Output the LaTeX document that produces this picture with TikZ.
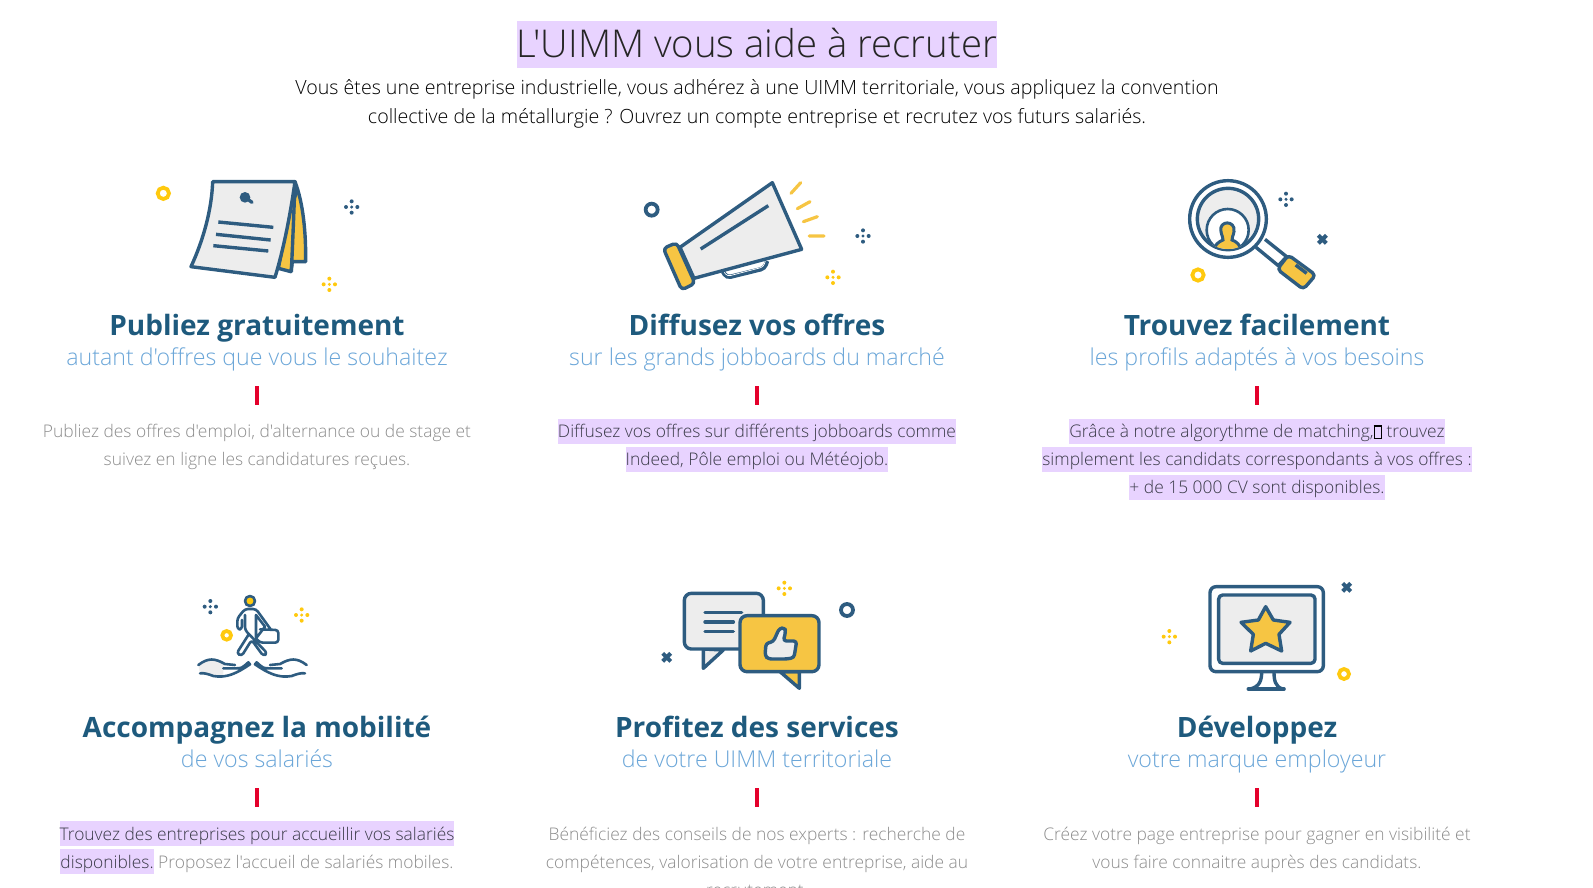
\documentclass[tikz,border=0pt]{standalone}
\usepackage{fontspec}
\usepackage{xcolor}
\setmainfont{Open Sans}
\newfontfamily\lightfont{Open Sans Light}
\usetikzlibrary{positioning}
\definecolor{iconblue}{HTML}{2E5C80}
\definecolor{iconyellow}{HTML}{F6C543}
\definecolor{ringyellow}{HTML}{FFC90E}
\definecolor{papergrey}{HTML}{EDEDED}
\definecolor{headblue}{HTML}{1E5A7D}
\definecolor{subblue}{HTML}{6BA6D8}
\definecolor{barred}{HTML}{E4002B}
\definecolor{hlviolet}{HTML}{E8D3FF}
\definecolor{seltext}{HTML}{3A3A48}
\definecolor{bodygrey}{HTML}{8C8C8C}
\setlength{\fboxsep}{0pt}
\newcommand{\hlbit}[1]{\colorbox{hlviolet}{\rule[-6pt]{0pt}{25pt}\textcolor{seltext}{#1}}}
\newcommand{\tofu}{{\setlength{\fboxrule}{1.2pt}\textcolor{black}{\fbox{\rule{0pt}{11pt}\hspace{6pt}}}}}
\newcommand{\sparkle}[3]{\foreach \dx/\dy in {-17/0,17/0,0/-17,0/17}{\fill[#3] (#1+\dx,#2+\dy) circle (6);}\fill[#3] (#1,#2) circle (5);}
\newcommand{\xmark}[2]{\draw[iconblue,line width=4pt] (#1-12,#2-12) -- (#1+12,#2+12) (#1-12,#2+12) -- (#1+12,#2-12);}
\newcommand{\openhand}{\draw[thinline] (55,285) .. controls (85,262) and (105,265) .. (135,282) -- (165,285) (130,295) -- (165,295) .. controls (185,295) .. (205,277) -- (210,283) .. controls (170,310) and (140,325) .. (100,318) .. controls (85,312) and (70,308) .. (60,310);}
\begin{document}
\begin{tikzpicture}[x=1pt,y=-1pt,
    titleline/.style={anchor=base,inner sep=0pt,font=\lightfont\fontsize{38.3}{46}\selectfont,text=black!85},
    introline/.style={anchor=base,inner sep=0pt,font=\lightfont\fontsize{19.6}{24}\selectfont,text=black},
    headline/.style={anchor=base,inner sep=0pt,font=\bfseries\fontsize{28}{34}\selectfont,text=headblue},
    subline/.style={anchor=base,inner sep=0pt,font=\lightfont\fontsize{23.2}{28}\selectfont,text=subblue},
    bodyline/.style={anchor=base,inner sep=0pt,font=\lightfont\fontsize{17.4}{22}\selectfont,text=bodygrey},
    redbar/.style={fill=barred,inner sep=0pt,minimum width=3.4pt,minimum height=19pt},
    iconline/.style={draw=iconblue,line width=3.4pt,line join=round},
    thinline/.style={draw=iconblue,line width=2.6pt,line join=round,line cap=round},
    ring/.style={line width=3.8pt},
    ray/.style={draw=iconyellow,line width=3.2pt,line cap=round}]
\useasboundingbox (0,0) rectangle (1593,887);
\clip (0,0) rectangle (1593,887);

% title
\node[titleline] (title) at (757,57.5) {\colorbox{hlviolet}{\rule[-10pt]{0pt}{47pt}L'UIMM vous aide à recruter}};
\node[introline] (intro1) at (757,94) {Vous êtes une entreprise industrielle, vous adhérez à une UIMM territoriale, vous appliquez la convention};
\node[introline] (intro2) at (757,123) {collective de la métallurgie ? Ouvrez un compte entreprise et recrutez vos futurs salariés.};

% first row
\node[headline] (head1) at (257,335) {Publiez gratuitement};
\node[subline] (sub1) at (257,365) {autant d'offres que vous le souhaitez};
\node[redbar] (bar1) at (257,395) {};
\node[bodyline] (body1a) at (257,437.5) {Publiez des offres d'emploi, d'alternance ou de stage et};
\node[bodyline] (body1b) at (257,465.5) {suivez en ligne les candidatures reçues.};

\node[headline] (head2) at (757,335) {Diffusez vos offres};
\node[subline] (sub2) at (757,365) {sur les grands jobboards du marché};
\node[redbar] (bar2) at (757,395) {};
\node[bodyline] (body2a) at (757,437.5) {\hlbit{Diffusez vos offres sur différents jobboards comme}};
\node[bodyline] (body2b) at (757,465.5) {\hlbit{Indeed, Pôle emploi ou Météojob.}};

\node[headline] (head3) at (1257,335) {Trouvez facilement};
\node[subline] (sub3) at (1257,365) {les profils adaptés à vos besoins};
\node[redbar] (bar3) at (1257,395) {};
\node[bodyline] (body3a) at (1257,437.5) {\hlbit{Grâce à notre algorythme de matching,\tofu{} trouvez}};
\node[bodyline] (body3b) at (1257,465.5) {\hlbit{simplement les candidats correspondants à vos offres :}};
\node[bodyline] (body3c) at (1257,493.5) {\hlbit{+ de 15 000 CV sont disponibles.}};

% second row
\node[headline] (head4) at (257,737.5) {Accompagnez la mobilité};
\node[subline] (sub4) at (257,767.5) {de vos salariés};
\node[redbar] (bar4) at (257,797) {};
\node[bodyline] (body4a) at (257,840) {\hlbit{Trouvez des entreprises pour accueillir vos salariés}};
\node[bodyline] (body4b) at (257,868) {\hlbit{disponibles.} Proposez l'accueil de salariés mobiles.};

\node[headline] (head5) at (757,737.5) {Profitez des services};
\node[subline] (sub5) at (757,767.5) {de votre UIMM territoriale};
\node[redbar] (bar5) at (757,797) {};
\node[bodyline] (body5a) at (757,840) {Bénéficiez des conseils de nos experts : recherche de};
\node[bodyline] (body5b) at (757,868) {compétences, valorisation de votre entreprise, aide au};
\node[bodyline] (body5c) at (757,896) {recrutement.};

\node[headline] (head6) at (1257,737.5) {Développez};
\node[subline] (sub6) at (1257,767.5) {votre marque employeur};
\node[redbar] (bar6) at (1257,797) {};
\node[bodyline] (body6a) at (1257,840) {Créez votre page entreprise pour gagner en visibilité et};
\node[bodyline] (body6b) at (1257,868) {vous faire connaitre auprès des candidats.};

% notepad
\begin{scope}[shift={(130,160)},scale=1/3]
    \draw[ringyellow,ring] (100,100) circle (17);
    \sparkle{665}{141}{iconblue}
    \sparkle{598}{373}{ringyellow}
    \draw[iconline,fill=iconyellow] (495,65) .. controls (520,130) and (528,220) .. (527,305) -- (487,305) -- (483,335) -- (445,325) -- cycle;
    \draw[iconline] (495,65) .. controls (492,150) and (488,250) .. (484,335);
    \fill[iconblue] (495,65) -- (506,95) -- (489,140) -- cycle;
    \draw[iconline,fill=papergrey] (248,65) -- (495,65) .. controls (480,170) and (460,270) .. (435,352) -- (183,320) .. controls (220,240) and (245,150) .. (248,65) -- cycle;
    \fill[iconblue] (345,112) circle (16);
    \draw[iconblue,line width=3.4pt,line cap=round] (345,112) -- (366,127);
    \draw[iconblue,line width=3.4pt] (265,186) -- (430,202) (258,223) -- (422,240) (250,257) -- (415,273);
\end{scope}

% megaphone
\begin{scope}[shift={(620,160)},scale=1/3]
    \draw[iconblue,ring] (95,149) circle (18);
    \sparkle{729}{228}{iconblue}
    \sparkle{639}{352}{ringyellow}
    \draw[iconblue,line width=4.4pt,rounded corners=4pt] (309,335) -- (320,353) -- (434,325) -- (441,303);
    \draw[white,line width=0.7pt,rounded corners=3pt] (313,337) -- (322,349) -- (430,321) -- (436,303);
    \draw[iconline,fill=papergrey] (457,68) -- (545,268) -- (222,355) -- (180,262) -- cycle;
    \draw[iconline,fill=iconyellow,rounded corners=4pt] (130,265) -- (170,248) -- (225,370) -- (185,390) -- cycle;
    \draw[iconblue,line width=3.4pt] (242,267) -- (445,137);
    \draw[ray] (513,100) -- (542,68) (532,146) -- (570,125) (550,185) -- (592,170) (568,228) -- (612,228);
\end{scope}

% magnifier
\begin{scope}[shift={(1150,160)},scale=1/3]
    \draw[ringyellow,ring] (144,345) circle (17);
    \sparkle{408}{118}{iconblue}
    \xmark{517}{238}
    \draw[iconline,fill=white] (345,238) -- (410,290) -- (385,317) -- (318,262);
    \draw[iconline,fill=iconyellow,rounded corners=4pt] (415,285) -- (497,345) -- (460,388) -- (382,328) -- cycle;
    \draw[iconblue,line width=3.4pt] (437,315) -- (470,340);
    \draw[iconline,fill=white] (234,177) circle (115);
    \draw[iconline,fill=papergrey] (234,177) circle (92);
    \begin{scope}
        \clip (234,177) circle (90);
        \draw[iconblue,line width=2.6pt,fill=white] (233,210) circle (63);
        \draw[draw=iconblue,line width=3pt,fill=iconyellow] (213,215) .. controls (205,180) and (258,180) .. (252,215) .. controls (250,228) and (245,232) .. (246,240) .. controls (258,245) and (272,250) .. (275,285) -- (190,285) .. controls (192,250) and (208,245) .. (219,240) .. controls (220,232) and (215,228) .. (213,215) -- cycle;
    \end{scope}
\end{scope}

% walking person over two hands
\begin{scope}[shift={(180,570)},scale=1/3]
    \draw[ringyellow,ring] (140,196) circle (13);
    \sparkle{91}{110}{iconblue}
    \sparkle{365}{135}{ringyellow}
    \draw[thinline,fill=ringyellow] (210,93) circle (15);
    \draw[thinline,rounded corners=3pt] (186,150) -- (186,178) -- (172,178) -- (172,145) -- (195,117) -- (228,117) -- (272,178) (240,178) -- (295,180) -- (295,218) -- (240,218) -- (228,205);
    \draw[thinline] (228,135) -- (228,205) -- (255,170) -- cycle;
    \draw[thinline,rounded corners=3pt] (195,135) -- (195,180) -- (262,250) -- (250,258) -- (215,210) -- (185,258) -- (170,250) -- (205,195);
    \fill[papergrey] (55,285) .. controls (85,262) and (105,265) .. (135,282) -- (130,295) -- (130,318) .. controls (100,318) and (70,308) .. (60,310) -- cycle;
    \openhand
    \begin{scope}[shift={(435,0)},xscale=-1]
        \openhand
    \end{scope}
\end{scope}

% speech bubbles
\begin{scope}[shift={(640,565)},scale=1/3]
    \sparkle{433}{70}{ringyellow}
    \xmark{80}{277}
    \draw[iconblue,ring] (621,135) circle (18);
    \draw[iconline,fill=papergrey] (190,252) -- (190,310) -- (250,255) -- cycle;
    \draw[iconline,fill=papergrey,rounded corners=7pt] (133,85) rectangle (370,252);
    \draw[iconblue,line width=3.4pt,line cap=round] (195,142) -- (305,142) (195,171) -- (280,171) (195,200) -- (280,200);
    \draw[iconline,fill=iconyellow] (420,320) -- (478,370) -- (478,320) -- cycle;
    \draw[iconline,fill=iconyellow,rounded corners=7pt] (300,152) rectangle (537,320);
    \draw[iconline,fill=papergrey,rounded corners=3pt] (378,235) -- (400,230) -- (418,190) -- (434,188) -- (437,200) -- (430,228) -- (470,228) -- (462,278) -- (440,282) -- (385,282) -- (375,272) -- cycle;
\end{scope}

% monitor with star
\begin{scope}[shift={(1130,565)},scale=1/3]
    \sparkle{118}{215}{ringyellow}
    \draw[ringyellow,ring] (642,327) circle (15);
    \xmark{650}{67}
    \draw[iconline] (395,320) .. controls (395,345) and (390,365) .. (360,372) -- (458,372) .. controls (435,365) and (432,345) .. (432,320);
    \draw[iconblue,line width=3.6pt,line cap=round] (355,372) -- (462,372);
    \draw[iconline,fill=white,rounded corners=6pt] (240,65) rectangle (580,320);
    \draw[iconline,fill=papergrey,rounded corners=4pt] (266,90) rectangle (555,295);
    \draw[iconline,fill=iconyellow] (407,125) -- (430,165) -- (480,172) -- (447,208) -- (455,258) -- (407,235) -- (362,258) -- (370,208) -- (333,172) -- (385,165) -- cycle;
\end{scope}
\end{tikzpicture}
\end{document}
